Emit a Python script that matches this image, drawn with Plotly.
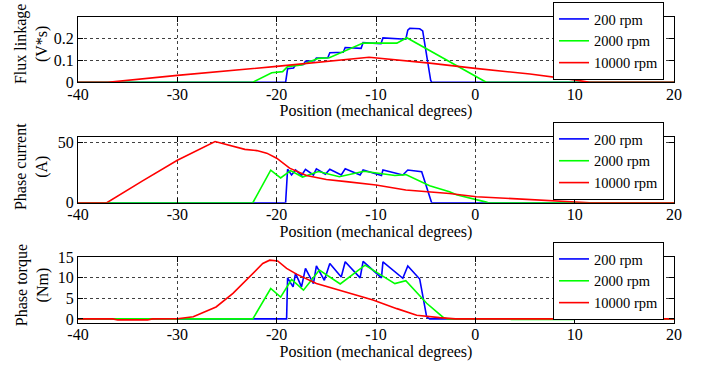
import plotly.graph_objects as go

# ---------------- data ----------------
series_names = ["200 rpm", "2000 rpm", "10000 rpm"]
series_colors = ["#0000FF", "#00FF00", "#FF0000"]

x_ticks = [-40, -30, -20, -10, 0, 10, 20]
x_tick_labels = ["-40", "-30", "-20", "-10", "0", "10", "20"]

flux_ticks = [0, 0.1, 0.2]
flux_tick_labels = ["0", "0.1", "0.2"]
current_ticks = [0, 50]
current_tick_labels = ["0", "50"]
torque_ticks = [0, 5, 10, 15]
torque_tick_labels = ["0", "5", "10", "15"]

# Flux linkage (V*s)
flux_200_x = [-40, -19.1, -18.9, -18.3, -18.1, -17.3, -17.1, -16.2, -16.0, -14.85, -14.65, -13.3, -13.1,
              -11.5, -11.3, -9.5, -9.3, -7.0, -6.8, -6.6, -5.6, -5.3, -4.5, -4.4, 20]
flux_200_y = [0, 0, 0.062, 0.066, 0.080, 0.082, 0.097, 0.099, 0.112, 0.113, 0.136, 0.138, 0.160,
              0.156, 0.182, 0.177, 0.204, 0.198, 0.240, 0.248, 0.246, 0.236, 0.01, 0, 0]
flux_2000_x = [-40, -22.4, -20.5, -19.4, -18.9, -17.5, -15.8, -14.7, -11.3, -7.9, -6.9, -2.6, 1.1, 20]
flux_2000_y = [0, 0, 0.044, 0.049, 0.072, 0.080, 0.110, 0.113, 0.180, 0.180, 0.205, 0.095, 0, 0]
flux_10000_x = [-40, -37, -30, -20, -10.7, -4.6, 0, 5.5, 10, 11.5, 20]
flux_10000_y = [0, 0, 0.032, 0.073, 0.115, 0.088, 0.064, 0.038, 0.011, 0, 0]

# Phase current (A)
cur_200_x = [-40, -19.1, -18.9, -18.5, -18.1, -17.5, -17.1, -16.3, -16.0, -15.1, -14.65, -13.5, -13.1,
             -11.6, -11.3, -9.45, -9.3, -7.3, -6.8, -5.4, -4.4, 20]
cur_200_y = [0, 0, 27.6, 22.9, 27.0, 22.5, 27.6, 22.9, 28.0, 23.5, 27.6, 22.9, 28.0,
             22.9, 27.0, 22.5, 27.0, 22.9, 27.0, 25.5, 0, 0]
cur_2000_x = [-40, -22.4, -20.6, -19.6, -18.6, -17.4, -15.8, -13.7, -11.2, -8.1, -7.0, -4.6, -2.6, -1.9, 1.1, 1.3, 20]
cur_2000_y = [0, 0, 26.8, 20.5, 26.5, 21.2, 25.7, 21.5, 26.0, 22.5, 23.2, 14.0, 9.0, 6.6, 0.5, 0, 0]
cur_10000_x = [-40, -37.1, -33.5, -30, -26.2, -24.7, -23.2, -22.0, -21.0, -20.0, -18.7, -17.0, -15.0,
               -13.0, -10.0, -7.0, -2.6, 0.1, 5, 10.2, 11.5, 20]
cur_10000_y = [0, 0, 18, 35, 50.5, 47.5, 44, 43, 40.9, 36.7, 28.5, 22.5, 19.2,
               17.4, 14.7, 10.5, 7.6, 5.0, 2.8, 0.8, 0, 0]

# Phase torque (Nm)
tq_200_x = [-40, -19.0, -18.9, -18.35, -18.1, -17.5, -17.1, -16.3, -16.0, -15.2, -14.65, -13.5, -13.1,
            -11.6, -11.3, -9.45, -9.3, -7.3, -6.8, -5.6, -4.9, -4.6, 20]
tq_200_y = [0, 0, 10.0, 7.8, 11.1, 7.8, 12.3, 8.6, 12.9, 9.4, 13.5, 10.2, 13.9,
            10.0, 14.0, 10.0, 13.9, 9.9, 12.9, 9.7, 0.5, 0, 0]
tq_2000_x = [-40, -22.4, -20.6, -19.6, -18.5, -17.3, -15.7, -13.6, -11.1, -8.1, -7.0, -4.9, -3.2, -2.8,
             3.5, 3.6, 10, 10.1, 20]
tq_2000_y = [0, 0, 7.4, 5.3, 9.6, 7.0, 11.9, 8.5, 13.1, 8.6, 9.3, 3.8, 0.3, 0,
             0, -0.12, -0.12, 0, 0]
tq_10000_x = [-40, -36.5, -36, -33, -32.5, -30, -28.4, -26.1, -24.4, -22.7, -21.4, -20.7, -19.9, -19.0,
              -18.0, -16.0, -14.3, -11.6, -10.3, -7.9, -5.9, -3.6, -2.0, 20]
tq_10000_y = [0, 0, -0.25, -0.25, 0, 0.05, 0.5, 2.9, 6.2, 10.2, 13.5, 14.3, 14.1, 12.3,
              10.9, 8.6, 7.4, 5.6, 4.6, 2.5, 0.9, 0.3, 0, 0]

panels = [
    dict(xs=[flux_200_x, flux_2000_x, flux_10000_x], ys=[flux_200_y, flux_2000_y, flux_10000_y],
         title="Flux linkage<br>(V*s)", rng=[0, 0.3], tv=flux_ticks, tt=flux_tick_labels),
    dict(xs=[cur_200_x, cur_2000_x, cur_10000_x], ys=[cur_200_y, cur_2000_y, cur_10000_y],
         title="Phase current<br>(A)", rng=[0, 54], tv=current_ticks, tt=current_tick_labels),
    dict(xs=[tq_200_x, tq_2000_x, tq_10000_x], ys=[tq_200_y, tq_2000_y, tq_10000_y],
         title="Phase torque<br>(Nm)", rng=[-1, 15], tv=torque_ticks, tt=torque_tick_labels),
]

# ---------------- layout geometry ----------------
W, H = 713, 365
ML, MR, MT, MB = 78, 39, 17, 42
domains = [[0.7866, 1.0], [0.393, 0.607], [0.0, 0.2147]]
title_y = [0.912, 0.51, 0.124]
legend_y = [1.049, 0.657, 0.2647]

FONT = "Liberation Serif, Times New Roman, serif"

fig = go.Figure()
layout = dict(
    width=W, height=H, margin=dict(l=ML, r=MR, t=MT, b=MB, pad=0, autoexpand=False),
    paper_bgcolor="white", plot_bgcolor="white",
    font=dict(family=FONT, size=16, color="black"),
    annotations=[],
)

for i, p in enumerate(panels):
    n = "" if i == 0 else str(i + 1)
    leg = "legend" if i == 0 else "legend" + str(i + 1)
    for k in range(3):
        fig.add_trace(go.Scatter(
            x=p["xs"][k], y=p["ys"][k], mode="lines", name=series_names[k],
            line=dict(color=series_colors[k], width=1.6),
            xaxis="x" + n, yaxis="y" + n, legend=leg, showlegend=True,
        ))
    axis_common = dict(showline=True, linecolor="black", linewidth=1, mirror="ticks",
                       ticks="inside", ticklen=5, tickcolor="black",
                       showgrid=True, gridcolor="#404040", gridwidth=1, griddash="dot",
                       zeroline=False, tickfont=dict(family=FONT, size=16, color="black"))
    layout["xaxis" + n] = dict(axis_common, domain=[0, 1], anchor="y" + n, range=[-40, 20],
                               tickvals=x_ticks, ticktext=x_tick_labels, ticklabelstandoff=-3,
                               title=dict(text="Position (mechanical degrees)", standoff=0,
                                          font=dict(family=FONT, size=16, color="black")))
    layout["yaxis" + n] = dict(axis_common, domain=domains[i], anchor="x" + n, range=p["rng"],
                               tickvals=p["tv"], ticktext=p["tt"])
    layout[leg] = dict(x=0.797, xanchor="left", y=legend_y[i], yanchor="top",
                       bgcolor="white", bordercolor="black", borderwidth=1,
                       font=dict(family=FONT, size=14.5, color="black"),
                       tracegroupgap=0)
    layout["annotations"].append(dict(
        text=p["title"], textangle=-90, xref="paper", yref="paper",
        x=-0.077, y=title_y[i], xanchor="center", yanchor="middle", showarrow=False,
        font=dict(family=FONT, size=16, color="black")))

fig.update_layout(**layout)
fig.write_html("out.html")
